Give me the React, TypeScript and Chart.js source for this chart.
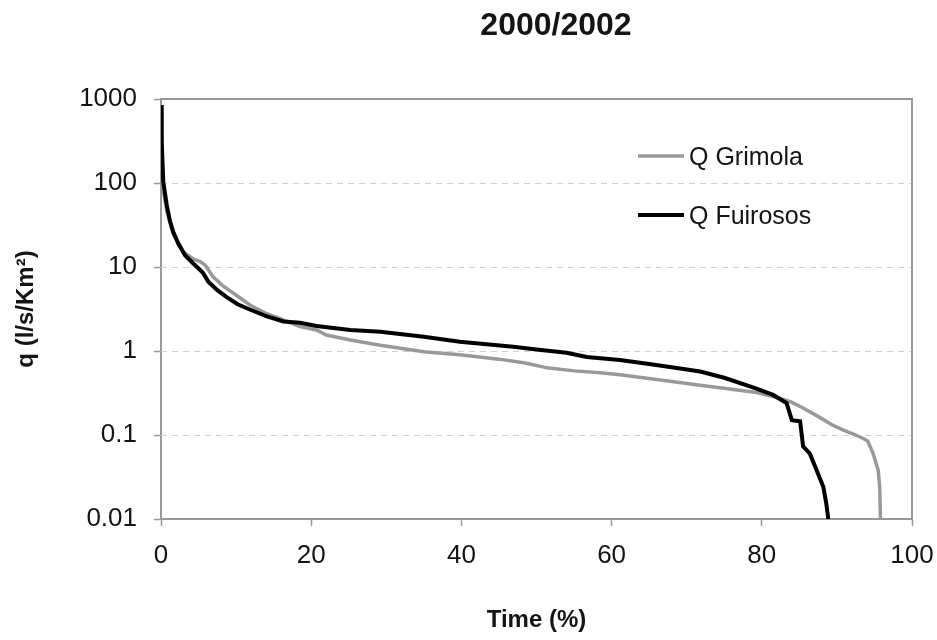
import { useEffect, useRef } from "react";
import { Chart, registerables } from "chart.js";

Chart.register(...registerables);

// Flow duration curves, 2000/2002
const chartTitle = "2000/2002";
const xAxisTitle = "Time (%)";
const yAxisTitle = "q (l/s/Km²)";

const xTicks = [0, 20, 40, 60, 80, 100];
const yTicks = [0.01, 0.1, 1, 10, 100, 1000];
const yTickLabels = ["0.01", "0.1", "1", "10", "100", "1000"];

const seriesNames = ["Q Grimola", "Q Fuirosos"];
const seriesColors = ["#999999", "#000000"];

const grimolaTime = [
  0, 0.3, 0.8, 1.6, 3, 4.3, 5.2, 5.9, 6.9, 8.2, 9.6, 11.9, 14, 16.3, 18.5, 20.7,
  22, 25.2, 29.2, 35, 39.8, 45, 48.5, 51.4, 55, 58.5, 61.1, 65, 71.8, 76, 79.3,
  82, 83.8, 85.5, 87.3, 89.5, 90.8, 92.5, 93.5, 94.1, 94.8, 95.5, 95.7, 95.8,
];
const grimolaQ = [
  500, 80, 45, 25, 15, 12.5, 11.6, 10.5, 7.7, 6, 4.9, 3.5, 2.8, 2.35, 1.95, 1.78,
  1.55, 1.35, 1.17, 0.98, 0.9, 0.8, 0.72, 0.63, 0.58, 0.55, 0.52, 0.47, 0.39,
  0.35, 0.32, 0.28, 0.25, 0.21, 0.17, 0.13, 0.115, 0.1, 0.091, 0.085, 0.061,
  0.038, 0.024, 0.01,
];

const fuirososTime = [
  0, 0.1, 0.3, 0.76, 1.2, 1.64, 2.3, 3.2, 4.3, 4.9, 5.6, 6.3, 7.5, 8.7, 10.2,
  11.9, 14, 16.3, 18.5, 20.7, 25.2, 29.2, 35, 39.8, 46.9, 50, 54, 56.7, 61.1, 65,
  68, 71.8, 75, 79.2, 81.5, 83.3, 84.0, 85.1, 85.5, 86.4, 87.3, 88.2, 88.6, 88.85,
];
const fuirososQ = [
  850, 300, 103, 55, 35, 26, 19, 13.8, 11, 9.8, 8.5, 6.7, 5.3, 4.4, 3.6, 3.1,
  2.6, 2.25, 2.17, 1.98, 1.78, 1.7, 1.48, 1.29, 1.12, 1.04, 0.955, 0.85, 0.78,
  0.7, 0.64, 0.57, 0.48, 0.36, 0.3, 0.24, 0.15, 0.146, 0.073, 0.06, 0.038, 0.024,
  0.015, 0.01,
];

const FONT = "'Liberation Sans', Arial, Helvetica, sans-serif";
const AXIS_COLOR = "#999999";
const TEXT_COLOR = "#141414";

const toPoints = (xs: number[], ys: number[]) =>
  xs.map((x, i) => ({ x, y: ys[i] }));

// dashed horizontal grid + top/right frame of the plot box
const framePlugin = {
  id: "frameAndGrid",
  beforeDatasetsDraw(chart: any) {
    const { ctx, chartArea: a, scales } = chart;
    const ys = scales.y;
    ctx.save();
    ctx.strokeStyle = "#cfcfcf";
    ctx.lineWidth = 1;
    ctx.setLineDash([6, 5]);
    ctx.beginPath();
    yTicks.slice(1, -1).forEach((v) => {
      const py = Math.round(ys.getPixelForValue(v)) + 0.5;
      ctx.moveTo(a.left, py);
      ctx.lineTo(a.right, py);
    });
    ctx.stroke();
    ctx.setLineDash([]);
    ctx.strokeStyle = AXIS_COLOR;
    ctx.lineWidth = 2;
    ctx.beginPath();
    ctx.moveTo(a.left, a.top);
    ctx.lineTo(a.right, a.top);
    ctx.lineTo(a.right, a.bottom);
    ctx.stroke();
    ctx.restore();
  },
};

// chart title and in-plot legend
const labelsPlugin = {
  id: "titleAndLegend",
  afterDraw(chart: any) {
    const { ctx } = chart;
    ctx.save();
    ctx.fillStyle = TEXT_COLOR;
    ctx.font = `bold 32px ${FONT}`;
    ctx.textAlign = "center";
    ctx.textBaseline = "middle";
    ctx.fillText(chartTitle, 556, 26);

    const rows = [156, 215];
    chart.data.datasets.forEach((ds: any, i: number) => {
      const y = rows[i];
      ctx.strokeStyle = ds.borderColor;
      ctx.lineWidth = ds.borderWidth;
      ctx.beginPath();
      ctx.moveTo(638, y);
      ctx.lineTo(684, y);
      ctx.stroke();
      ctx.fillStyle = TEXT_COLOR;
      ctx.font = `25px ${FONT}`;
      ctx.textAlign = "left";
      ctx.textBaseline = "middle";
      ctx.fillText(ds.label, 689, y + 2);
    });
    ctx.restore();
  },
};

export default function App() {
  const canvasRef = useRef<HTMLCanvasElement | null>(null);

  useEffect(() => {
    if (!canvasRef.current) return;
    const chart = new Chart(canvasRef.current, {
      type: "line",
      data: {
        datasets: [
          {
            label: seriesNames[0],
            data: toPoints(grimolaTime, grimolaQ),
            borderColor: seriesColors[0],
            borderWidth: 3.5,
            pointRadius: 0,
            tension: 0,
            order: 1,
          },
          {
            label: seriesNames[1],
            data: toPoints(fuirososTime, fuirososQ),
            borderColor: seriesColors[1],
            borderWidth: 4,
            pointRadius: 0,
            tension: 0,
            order: 0,
          },
        ],
      },
      options: {
        animation: false,
        responsive: false,
        maintainAspectRatio: false,
        layout: { padding: { top: 99, right: 25, left: 0, bottom: 0 } },
        plugins: {
          legend: { display: false },
          tooltip: { enabled: false },
          title: { display: false },
        },
        scales: {
          x: {
            type: "linear",
            min: xTicks[0],
            max: xTicks[xTicks.length - 1],
            afterBuildTicks: (s: any) => {
              s.ticks = xTicks.map((v) => ({ value: v }));
            },
            afterFit: (s: any) => {
              s.height = 121;
              s.paddingLeft = 0;
              s.paddingRight = 0;
            },
            grid: {
              drawOnChartArea: false,
              drawTicks: true,
              tickLength: 7,
              tickColor: AXIS_COLOR,
              tickWidth: 1.5,
            },
            border: { display: true, color: AXIS_COLOR, width: 2 },
            ticks: {
              padding: 14,
              maxRotation: 0,
              autoSkip: false,
              color: TEXT_COLOR,
              font: { family: FONT, size: 26 },
            },
            title: {
              display: true,
              text: xAxisTitle,
              color: TEXT_COLOR,
              font: { family: FONT, size: 24, weight: "bold" },
              padding: { top: 0, bottom: 5 },
            },
          },
          y: {
            type: "logarithmic",
            min: yTicks[0],
            max: yTicks[yTicks.length - 1],
            afterBuildTicks: (s: any) => {
              s.ticks = yTicks.map((v) => ({ value: v }));
            },
            afterFit: (s: any) => {
              s.width = 161;
              s.paddingTop = 0;
              s.paddingBottom = 0;
            },
            grid: {
              drawOnChartArea: false,
              drawTicks: true,
              tickLength: 7,
              tickColor: AXIS_COLOR,
              tickWidth: 1.5,
            },
            border: { display: true, color: AXIS_COLOR, width: 2 },
            ticks: {
              padding: 17,
              autoSkip: false,
              color: TEXT_COLOR,
              font: { family: FONT, size: 26 },
              callback: (_v: any, i: number) => yTickLabels[i],
            },
            title: {
              display: true,
              text: yAxisTitle,
              color: TEXT_COLOR,
              font: { family: FONT, size: 24, weight: "bold" },
              padding: { top: 12, bottom: 0 },
            },
          },
        },
      },
      plugins: [framePlugin, labelsPlugin],
    });
    return () => chart.destroy();
  }, []);

  return (
    <div style={{ position: "fixed", left: 0, top: 0, width: 937, height: 640, background: "#fff" }}>
      <canvas ref={canvasRef} width={937} height={640} />
    </div>
  );
}
